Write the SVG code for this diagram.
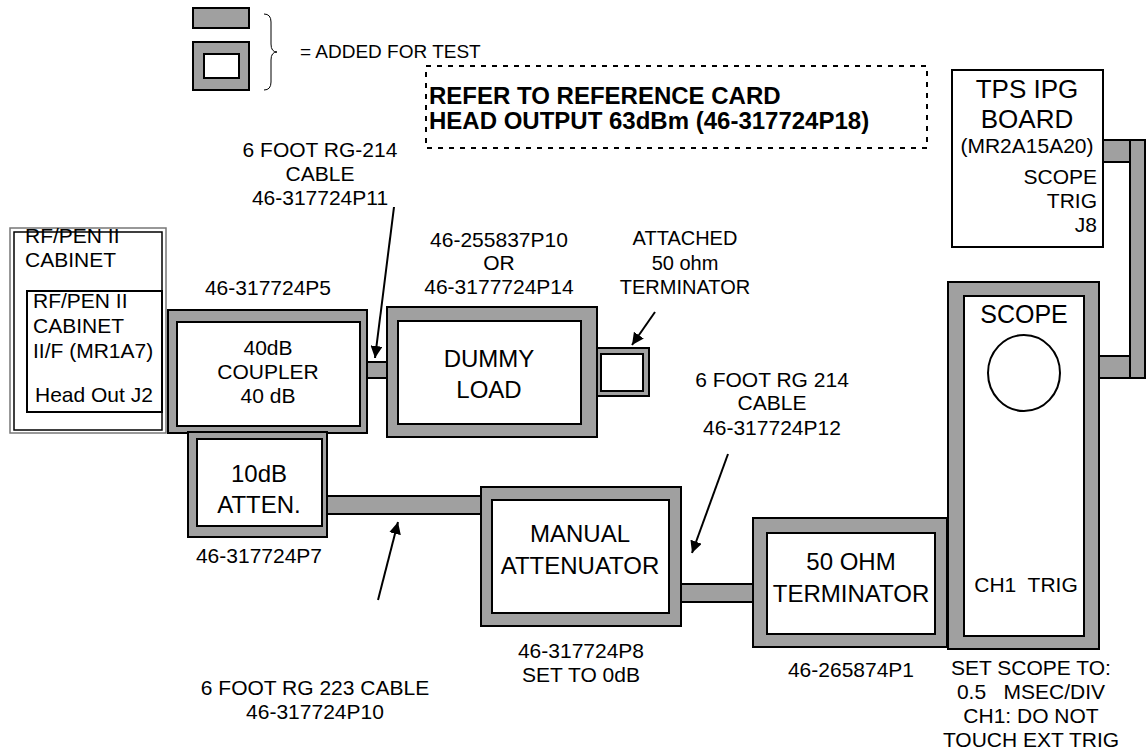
<svg xmlns="http://www.w3.org/2000/svg" width="1146" height="755" viewBox="0 0 1146 755">
<defs>
<style>
text{font-family:"Liberation Sans",Arial,sans-serif;font-size:21px;fill:#000}
.c{text-anchor:middle}
.r{text-anchor:end}
.big{font-size:24px}
.b{font-weight:bold;font-size:24px}
.g{fill:#a0a0a0;stroke:#000;stroke-width:2}
.w{fill:#fff;stroke:#000;stroke-width:2}
.ln{stroke:#000;stroke-width:2;fill:none}
.pre{white-space:pre}
</style>
<marker id="ah" viewBox="0 0 10 10" refX="10" refY="5" markerWidth="6" markerHeight="6" orient="auto" markerUnits="strokeWidth">
<path d="M0,0 L10,5 L0,10 z" fill="#000"/>
</marker>
</defs>
<rect width="1146" height="755" fill="#fff"/>

<g id="legend">
<rect class="g" x="193" y="8" width="56" height="20"/>
<rect class="g" x="193" y="42" width="56" height="48"/>
<rect class="w" x="204" y="54" width="35" height="24"/>
<path d="M264,14 q7,0 7,8 v22 q0,8 6,8 q-6,0 -6,8 v22 q0,8 -7,8" fill="none" stroke="#000" stroke-width="1"/>
<text x="300" y="58" style="font-size:19px">= ADDED FOR TEST</text>
</g>

<g id="note">
<rect x="426" y="66" width="501" height="82" fill="none" stroke="#000" stroke-width="2" stroke-dasharray="5,6"/>
<text class="b" x="429" y="104">REFER TO REFERENCE CARD</text>
<text class="b" x="429" y="129">HEAD OUTPUT 63dBm (46-317724P18)</text>
</g>

<g id="connectors">
<rect class="g" x="367" y="362" width="20" height="16"/>
<rect class="g" x="327" y="496" width="154" height="18"/>
<rect class="g" x="681" y="584" width="72" height="18"/>
<rect class="g" x="1103" y="140" width="27" height="22"/>
<rect class="g" x="1099" y="356" width="31" height="22"/>
<rect class="g" x="1130" y="140" width="15" height="238"/>
<line class="ln" x1="394" y1="207" x2="375" y2="358" marker-end="url(#ah)"/>
<line class="ln" x1="655" y1="312" x2="632" y2="345" marker-end="url(#ah)"/>
<line class="ln" x1="728" y1="454" x2="692" y2="553" marker-end="url(#ah)"/>
<line class="ln" x1="378" y1="600" x2="398" y2="522" marker-end="url(#ah)"/>
</g>

<g id="rfpen">
<rect x="10" y="228" width="156" height="205" fill="#fff" stroke="#777" stroke-width="1.5"/>
<rect x="14" y="232" width="148" height="198" fill="none" stroke="#000" stroke-width="1.5"/>
<text x="25" y="243">RF/PEN II</text>
<text x="25" y="267">CABINET</text>
<rect x="27" y="291" width="135" height="121" fill="#fff" stroke="#000" stroke-width="2"/>
<text x="33" y="308">RF/PEN II</text>
<text x="33" y="333">CABINET</text>
<text x="33" y="358">II/F (MR1A7)</text>
<text x="35" y="402">Head Out J2</text>
</g>

<g id="coupler">
<rect class="g" x="168" y="310" width="199" height="123"/>
<rect class="w" x="177" y="322" width="183" height="104"/>
<text class="c" x="268" y="355">40dB</text>
<text class="c" x="268" y="379">COUPLER</text>
<text class="c" x="268" y="403">40 dB</text>
<text class="c" x="268" y="295">46-317724P5</text>
</g>

<g id="cable1label">
<text class="c" x="320" y="157">6 FOOT RG-214</text>
<text class="c" x="320" y="181">CABLE</text>
<text class="c" x="320" y="205">46-317724P11</text>
</g>

<g id="dummyload">
<rect class="g" x="387" y="307" width="210" height="130"/>
<rect class="w" x="398" y="321" width="183" height="103"/>
<text class="c big" x="489" y="367">DUMMY</text>
<text class="c big" x="489" y="398">LOAD</text>
<text class="c" x="499" y="247">46-255837P10</text>
<text class="c" x="499" y="270">OR</text>
<text class="c" x="499" y="294">46-3177724P14</text>
</g>

<g id="terminator50">
<rect class="g" x="597" y="348" width="52" height="48"/>
<rect class="w" x="601" y="354" width="42" height="37"/>
<text class="c" x="685" y="245" style="font-size:20px">ATTACHED</text>
<text class="c" x="685" y="270" style="font-size:20px">50 ohm</text>
<text class="c" x="685" y="294" style="font-size:20px">TERMINATOR</text>
</g>

<g id="atten10">
<rect class="g" x="188" y="432" width="139" height="105"/>
<rect class="w" x="197" y="439" width="125" height="87"/>
<text class="c big" x="259" y="482">10dB</text>
<text class="c big" x="259" y="513">ATTEN.</text>
<text class="c" x="259" y="563">46-317724P7</text>
</g>

<g id="cable2label">
<text class="c" x="315" y="695">6 FOOT RG 223 CABLE</text>
<text class="c" x="315" y="719">46-317724P10</text>
</g>

<g id="manualatten">
<rect class="g" x="481" y="487" width="200" height="139"/>
<rect class="w" x="492" y="500" width="177" height="113"/>
<text class="c big" x="580" y="542">MANUAL</text>
<text class="c big" x="580" y="574">ATTENUATOR</text>
<text class="c" x="581" y="658">46-317724P8</text>
<text class="c" x="581" y="682">SET TO 0dB</text>
</g>

<g id="cable3label">
<text class="c" x="772" y="387">6 FOOT RG 214</text>
<text class="c" x="772" y="410">CABLE</text>
<text class="c" x="772" y="435">46-317724P12</text>
</g>

<g id="ohmterminator">
<rect class="g" x="753" y="518" width="194" height="129"/>
<rect class="w" x="767" y="533" width="168" height="101"/>
<text class="c big" x="851" y="570">50 OHM</text>
<text class="c big" x="851" y="602">TERMINATOR</text>
<text class="c" x="851" y="677">46-265874P1</text>
</g>

<g id="scope">
<rect class="g" x="948" y="282" width="151" height="367"/>
<rect class="w" x="964" y="296" width="120" height="340"/>
<text class="c" x="1024" y="323" style="font-size:25px">SCOPE</text>
<ellipse cx="1024" cy="373" rx="36" ry="38" fill="#fff" stroke="#000" stroke-width="2"/>
<text class="c pre" x="1026" y="592">CH1  TRIG</text>
<text class="c" x="1031" y="675">SET SCOPE TO:</text>
<text class="c pre" x="1031" y="699">0.5   MSEC/DIV</text>
<text class="c" x="1031" y="723">CH1: DO NOT</text>
<text class="c" x="1031" y="747">TOUCH EXT TRIG</text>
</g>

<g id="tpsboard">
<rect x="952" y="70" width="151" height="177" fill="#fff" stroke="#000" stroke-width="2"/>
<text class="c" x="1027" y="98" style="font-size:26px">TPS IPG</text>
<text class="c" x="1027" y="128" style="font-size:26px">BOARD</text>
<text class="c" x="1027" y="153">(MR2A15A20)</text>
<text class="r" x="1097" y="184">SCOPE</text>
<text class="r" x="1097" y="208">TRIG</text>
<text class="r" x="1097" y="232">J8</text>
</g>
</svg>
